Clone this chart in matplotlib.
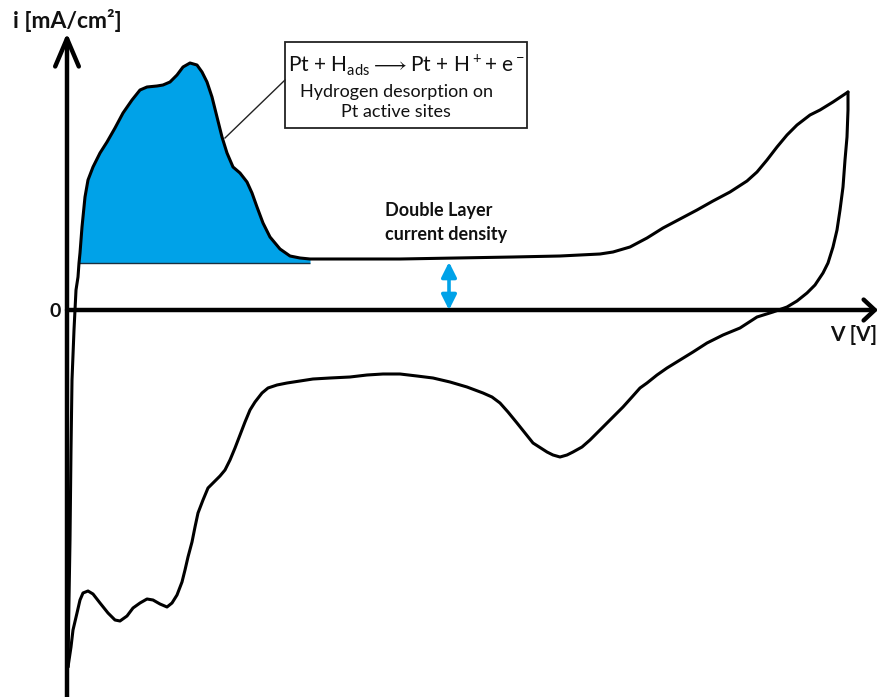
import numpy as np
import matplotlib
matplotlib.use("Agg")
import matplotlib.pyplot as plt
from matplotlib.patches import Rectangle

plt.rcParams['font.family'] = ['Lato', 'DejaVu Sans']
plt.rcParams['mathtext.fontset'] = 'custom'
plt.rcParams['mathtext.rm'] = 'Lato'

# CV curve (arbitrary units, origin at axis crossing)
# anodic sweep: bottom left -> H desorption peak -> double layer -> upper vertex
v_anodic = [1, 2, 3, 4, 5, 7, 8, 9, 11, 12, 13, 15, 18, 21, 26, 33, 40, 48, 56,
            65, 73, 80, 90, 96, 103, 110, 116, 123, 130, 135, 140, 145, 150, 155,
            160, 166, 173, 180, 185, 190, 196, 203, 213, 223, 233, 243, 333, 446,
            493, 513, 533, 546, 563, 580, 596, 613, 630, 646, 663, 680, 690, 700,
            710, 720, 730, 743, 753, 766, 781]
i_anodic = [-357, -290, -230, -140, -70, -20, 0, 20, 33, 47, 57, 83, 113, 130,
            143, 157, 168, 182, 197, 210, 220, 223, 224, 225, 228, 235, 243, 247,
            245, 238, 228, 213, 193, 173, 157, 143, 137, 128, 117, 103, 87, 73,
            61, 54, 52, 51, 51, 53, 54, 55, 56, 58, 63, 72, 82, 91, 100, 109, 118,
            129, 138, 150, 163, 175, 185, 195, 200, 208, 218]

# cathodic sweep: upper vertex -> oxide reduction -> H adsorption -> bottom left
v_cathodic = [781, 781, 780, 778, 776, 773, 770, 766, 761, 756, 748, 740, 730,
              720, 706, 690, 673, 656, 640, 626, 613, 600, 590, 580, 573, 565,
              556, 548, 540, 531, 523, 515, 506, 500, 493, 486, 480, 466, 458,
              450, 441, 433, 425, 416, 400, 383, 366, 350, 333, 316, 300, 283,
              263, 246, 233, 220, 210, 201, 195, 188, 183, 178, 173, 168, 163,
              158, 153, 146, 141, 136, 131, 128, 125, 121, 118, 115, 110, 105,
              100, 93, 86, 80, 73, 66, 60, 53, 48, 41, 33, 26, 21, 16, 13, 10,
              6, 4, 1]
i_cathodic = [218, 200, 173, 150, 123, 100, 80, 63, 47, 37, 25, 17, 9, 3, -2,
              -7, -18, -25, -33, -42, -50, -58, -65, -73, -78, -87, -97, -105,
              -113, -122, -130, -137, -142, -145, -147, -145, -142, -133, -123,
              -113, -102, -93, -87, -83, -77, -72, -68, -66, -64, -64, -65, -67,
              -68, -69, -71, -73, -75, -78, -83, -92, -100, -112, -125, -138,
              -150, -160, -166, -173, -178, -190, -203, -217, -232, -247, -260,
              -272, -285, -293, -297, -294, -290, -289, -293, -298, -306, -311,
              -310, -303, -293, -284, -281, -283, -290, -303, -320, -337, -357]

# baseline of the hydrogen desorption area, double layer current
h_base = 47
dl_current = 48

fig = plt.figure(figsize=(8.78, 6.97), dpi=100)
ax = fig.add_axes([0, 0, 1, 1])
ax.set_xlim(-67, 811)
ax.set_ylim(-387, 310)
ax.axis('off')

va = np.array(v_anodic)
ia = np.array(i_anodic)
sel = (va >= 12) & (va <= 243)
ax.fill_between(va[sel], ia[sel], h_base, color='#00A2E8', lw=0, zorder=1)
ax.hlines(h_base, va[sel].min(), va[sel].max(), color='#1a3040', lw=1.0, zorder=2)

ax.plot(v_anodic, i_anodic, color='black', lw=2.2, zorder=3,
        solid_joinstyle='round', solid_capstyle='round')
ax.plot(v_cathodic, i_cathodic, color='black', lw=2.2, zorder=3,
        solid_joinstyle='round', solid_capstyle='round')

# axes with open arrow heads
ax.annotate('', xy=(0, 277), xytext=(0, -387),
            arrowprops=dict(arrowstyle='->,head_length=2.0,head_width=0.85',
                            lw=3.2, color='black', shrinkA=0, shrinkB=0), zorder=4)
ax.annotate('', xy=(811, 0), xytext=(0, 0),
            arrowprops=dict(arrowstyle='->,head_length=0.8,head_width=0.75',
                            lw=3.2, color='black', shrinkA=0, shrinkB=0), zorder=4)

# double layer current arrow
ax.annotate('', xy=(382, dl_current), xytext=(382, 0),
            arrowprops=dict(arrowstyle='<|-|>,head_length=0.9,head_width=0.45',
                            lw=2.6, color='#00A2E8', shrinkA=0, shrinkB=0), zorder=4)

# labels
ax.text(-54, 290, 'i [mA/cm²]', fontsize=16.5, fontweight='bold',
        color='#111111', va='center', ha='left')
ax.text(-12, -2, '0', fontsize=14, fontweight='bold', color='#111111',
        va='center', ha='center')
ax.text(763, -25, 'V [V]', fontsize=15, fontweight='bold', color='#111111',
        va='center', ha='left')
ax.text(318, 99, 'Double Layer', fontsize=13, fontweight='bold',
        color='#111111', va='center', ha='left')
ax.text(318, 75, 'current density', fontsize=13, fontweight='bold',
        color='#111111', va='center', ha='left')

# annotation box for hydrogen desorption
ax.add_patch(Rectangle((218, 182), 242, 86, fill=False, edgecolor='#222222',
                       lw=1.3, zorder=5))
ax.plot([218, 158], [230, 172], color='#222222', lw=1.0, zorder=5)
ax.text(339, 245, r'Pt + H$_\mathrm{ads}$$\longrightarrow$Pt + H$^+$+ e$^-$',
        fontsize=15, color='#111111', va='center', ha='center')
ax.text(330, 218, 'Hydrogen desorption on', fontsize=13, color='#111111',
        va='center', ha='center')
ax.text(329, 198, 'Pt active sites', fontsize=13, color='#111111',
        va='center', ha='center')

fig.savefig('out.png', dpi=100)
